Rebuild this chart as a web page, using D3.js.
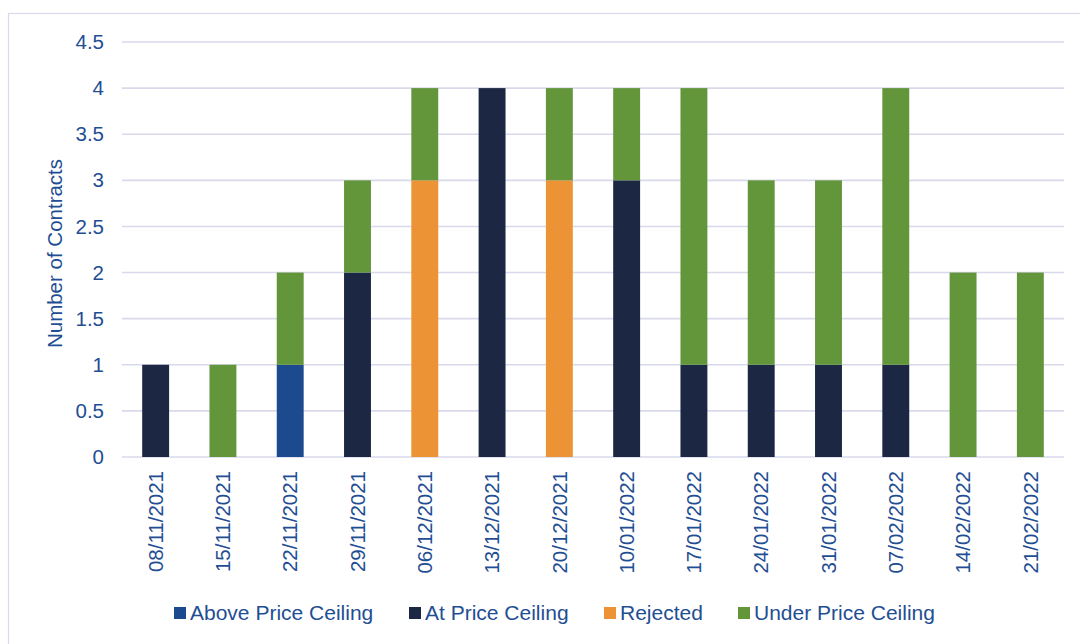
<!DOCTYPE html>
<html>
<head>
<meta charset="utf-8">
<script src="https://cdn.jsdelivr.net/npm/d3@7"></script>
<style>
  html, body { margin: 0; padding: 0; background: #ffffff; }
  svg { display: block; }
  text { font-family: "Liberation Sans", Arial, sans-serif; fill: #1f4e93; }
</style>
</head>
<body>
<svg id="chart" width="1080" height="644"></svg>
<script>
// Weekly contract counts by outcome
const weeks = ["08/11/2021", "15/11/2021", "22/11/2021", "29/11/2021", "06/12/2021", "13/12/2021",
  "20/12/2021", "10/01/2022", "17/01/2022", "24/01/2022", "31/01/2022", "07/02/2022",
  "14/02/2022", "21/02/2022"];
const seriesNames = ["Above Price Ceiling", "At Price Ceiling", "Rejected", "Under Price Ceiling"];
const abovePriceCeiling = [0, 0, 1, 0, 0, 0, 0, 0, 0, 0, 0, 0, 0, 0];
const atPriceCeiling    = [1, 0, 0, 2, 0, 4, 0, 3, 1, 1, 1, 1, 0, 0];
const rejected          = [0, 0, 0, 0, 3, 0, 3, 0, 0, 0, 0, 0, 0, 0];
const underPriceCeiling = [0, 1, 1, 1, 1, 0, 1, 1, 3, 2, 2, 3, 2, 2];
const yTicks = [0, 0.5, 1, 1.5, 2, 2.5, 3, 3.5, 4, 4.5];
const colors = ["#1b4b8e", "#1c2744", "#ec9335", "#63953b"];

const rows = weeks.map((w, i) => ({
  week: w,
  [seriesNames[0]]: abovePriceCeiling[i],
  [seriesNames[1]]: atPriceCeiling[i],
  [seriesNames[2]]: rejected[i],
  [seriesNames[3]]: underPriceCeiling[i]
}));

const svg = d3.select("#chart");
const margin = { left: 122, right: 16, top: 42, bottom: 187 };
const W = 1080, H = 644;
const fontSize = "20.5px";

// outer frame
svg.append("rect")
  .attr("x", 8.5).attr("y", 13.5)
  .attr("width", W + 10).attr("height", H)
  .attr("fill", "none").attr("stroke", "#d9d9ea").attr("stroke-width", 1.2);

const x = d3.scaleBand().domain(weeks)
  .range([margin.left, W - margin.right]).paddingInner(0.6).paddingOuter(0.3);
const y = d3.scaleLinear().domain([0, 4.5]).range([H - margin.bottom, margin.top]);

// gridlines
svg.append("g").selectAll("line").data(yTicks).join("line")
  .attr("x1", margin.left).attr("x2", W - margin.right)
  .attr("y1", d => y(d)).attr("y2", d => y(d))
  .attr("stroke", "#d9d9ec").attr("stroke-width", 1.6);

// stacked bars
const stack = d3.stack().keys(seriesNames)(rows);
svg.append("g").selectAll("g").data(stack).join("g")
  .attr("fill", (d, i) => colors[i])
  .selectAll("rect").data(d => d.filter(p => p[1] > p[0])).join("rect")
  .attr("x", d => x(d.data.week))
  .attr("width", x.bandwidth())
  .attr("y", d => y(d[1]))
  .attr("height", d => y(d[0]) - y(d[1]));

// y axis
const yAxis = svg.append("g")
  .attr("transform", `translate(${margin.left},0)`)
  .call(d3.axisLeft(y).tickValues(yTicks).tickFormat(d3.format("")).tickSize(0).tickPadding(18));
yAxis.select(".domain").remove();
yAxis.selectAll("text").style("font-size", fontSize).attr("fill", "#1f4e93");

// x axis
const xAxis = svg.append("g")
  .attr("transform", `translate(0,${H - margin.bottom})`)
  .call(d3.axisBottom(x).tickSize(0));
xAxis.select(".domain").remove();
xAxis.selectAll("text")
  .style("font-size", fontSize).attr("fill", "#1f4e93")
  .attr("transform", "rotate(-90)")
  .attr("text-anchor", "end")
  .attr("dy", "0.35em")
  .attr("x", -14).attr("y", 0);

// y title
svg.append("text")
  .attr("transform", `translate(55,${(y(0) + y(4.5)) / 2 + 4}) rotate(-90)`)
  .attr("text-anchor", "middle")
  .attr("dy", "0.35em")
  .style("font-size", fontSize)
  .text("Number of Contracts");

// legend
const legendX = [174, 409, 604, 738];
const legend = svg.append("g").selectAll("g").data(seriesNames).join("g")
  .attr("transform", (d, i) => `translate(${legendX[i]},613)`);
legend.append("rect").attr("x", 0).attr("y", -6).attr("width", 12).attr("height", 12)
  .attr("fill", (d, i) => colors[i]);
legend.append("text").attr("x", 16).attr("dy", "0.35em")
  .style("font-size", "21px").text(d => d);
</script>
</body>
</html>
